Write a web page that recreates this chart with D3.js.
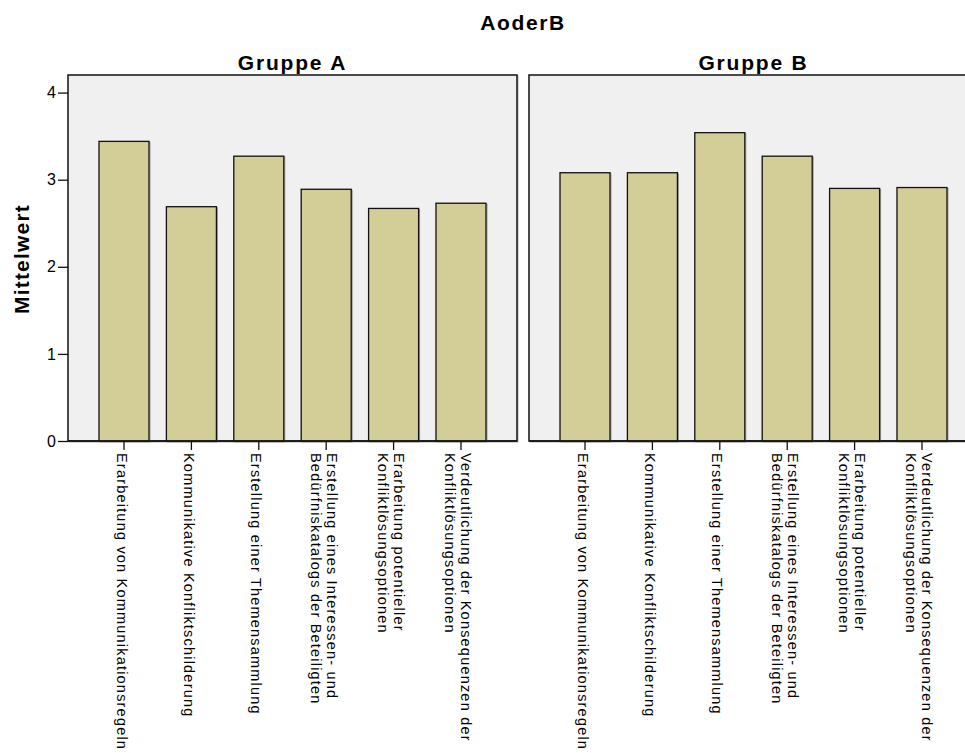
<!DOCTYPE html>
<html><head><meta charset="utf-8">
<script src="https://cdn.jsdelivr.net/npm/d3@7"></script>
<style>body{margin:0;background:#fff}text{font-family:"Liberation Sans",Arial,sans-serif}</style>
</head><body><svg id="c" width="965" height="753"></svg>
<script>
const categories = [
  ["Erarbeitung von Kommunikationsregeln"],
  ["Kommunikative Konfliktschilderung"],
  ["Erstellung einer Themensammlung"],
  ["Erstellung eines Interessen- und", "Bedürfniskatalogs der Beteiligten"],
  ["Erarbeitung potentieller", "Konfliktlösungsoptionen"],
  ["Verdeutlichung der Konsequenzen der", "Konfliktlösungsoptionen"]
];
const groups = ["Gruppe A", "Gruppe B"];
const valuesA = [3.44, 2.69, 3.27, 2.89, 2.67, 2.73];
const valuesB = [3.08, 3.08, 3.54, 3.27, 2.90, 2.91];
const yTicks = [0, 1, 2, 3, 4];
const chartTitle = "AoderB";
const yTitle = "Mittelwert";

const svg = d3.select("#c");
const pTop = 75, pBottom = 441, panelW = 449, gap = 12, pLeft = 68;
const y = d3.scaleLinear().domain([0, 4]).range([pBottom, pBottom - 4 * 87.1]);
const panels = [{name: groups[0], vals: valuesA}, {name: groups[1], vals: valuesB}];
const ids = categories.map((c, i) => i);

svg.append("text").attr("x", pLeft + panelW + gap / 2).attr("y", 30).attr("text-anchor", "middle")
  .style("font-size", "21px").attr("font-weight", "bold").attr("letter-spacing", 1.6).text(chartTitle);

panels.forEach((p, pi) => {
  const x0 = pLeft + pi * (panelW + gap);
  const x = d3.scaleBand().domain(ids).range([x0, x0 + panelW]).paddingInner(0.258).paddingOuter(0.46);
  const g = svg.append("g");
  g.append("rect").attr("x", x0 + 1).attr("y", pTop + 1).attr("width", panelW).attr("height", pBottom - pTop)
    .attr("fill", "none").attr("stroke", "#aaa").attr("stroke-width", 1);
  g.append("rect").attr("x", x0).attr("y", pTop).attr("width", panelW).attr("height", pBottom - pTop)
    .attr("fill", "#f0f0f0").attr("stroke", "#111").attr("stroke-width", 1.5);
  g.selectAll(".sh").data(p.vals).join("rect")
    .attr("x", (d, i) => x(i) + 1).attr("y", d => y(d) + 1)
    .attr("width", x.bandwidth()).attr("height", d => pBottom - y(d))
    .attr("fill", "none").attr("stroke", "#999").attr("stroke-width", 1);
  g.selectAll(".bar").data(p.vals).join("rect")
    .attr("x", (d, i) => x(i)).attr("y", d => y(d))
    .attr("width", x.bandwidth()).attr("height", d => pBottom - y(d))
    .attr("fill", "#d3ce98").attr("stroke", "#111").attr("stroke-width", 1.3);
  g.append("line").attr("x1", x0).attr("x2", x0 + panelW).attr("y1", pBottom).attr("y2", pBottom)
    .attr("stroke", "#111").attr("stroke-width", 1.5);
  svg.append("text").attr("x", x0 + panelW / 2).attr("y", 70).attr("text-anchor", "middle")
    .style("font-size", "21px").attr("font-weight", "bold").attr("letter-spacing", 1.8).text(p.name);
  const xa = g.append("g").attr("transform", `translate(0,${pBottom})`)
    .call(d3.axisBottom(x).tickSize(9).tickSizeOuter(0).tickFormat(""));
  xa.select(".domain").remove();
  xa.selectAll(".tick line").attr("stroke", "#111").attr("stroke-width", 1.3);
  ids.forEach(i => {
    const cx = x(i) + x.bandwidth() / 2;
    const lines = categories[i];
    const t = g.append("text").attr("transform", `translate(${cx},${pBottom + 12}) rotate(90)`)
      .style("font-size", "14.5px").attr("letter-spacing", 1.2).attr("fill", "#000");
    lines.forEach((ln, li) => {
      t.append("tspan").attr("x", 0).attr("y", 7.5 + (li - (lines.length - 1) / 2) * 16).text(ln);
    });
  });
});

const ya = svg.append("g").attr("transform", `translate(${pLeft},0)`)
  .call(d3.axisLeft(y).tickValues(yTicks).tickSize(10).tickFormat(d3.format("d")));
ya.select(".domain").remove();
ya.selectAll(".tick line").attr("stroke", "#111").attr("stroke-width", 1.3);
ya.selectAll(".tick text").style("font-size", "16px").attr("fill", "#000").attr("x", -12);

svg.append("text").attr("transform", `translate(29,${(pTop + pBottom) / 2 + 1}) rotate(-90)`)
  .attr("text-anchor", "middle").style("font-size", "21px").attr("font-weight", "bold").attr("letter-spacing", 1.2).text(yTitle);
</script></body></html>
